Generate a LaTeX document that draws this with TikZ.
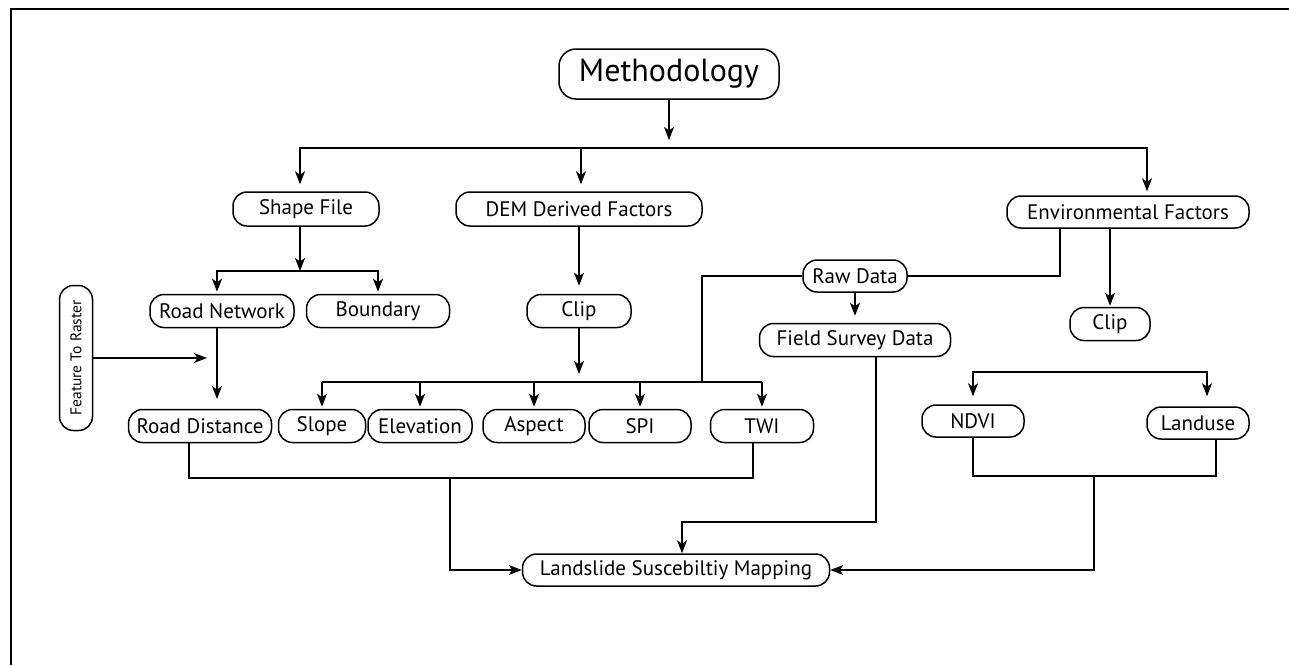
\documentclass[tikz,border=0pt]{standalone}
\usepackage{fontspec}
\setmainfont{PT Sans}
\usepackage{tikz}
\usetikzlibrary{arrows.meta,calc}

\newcommand{\boxfont}{\fontsize{21}{24}\selectfont}
\tikzset{
  box/.style={draw,line width=1.5pt,rounded corners=14pt,minimum height=33pt,inner sep=0pt,font=\boxfont},
  link/.style={line width=1.3pt},
}

\begin{document}
\begin{tikzpicture}[x=1pt,y=-1pt,>={Stealth[length=13pt,width=10pt,inset=3.5pt]}]
  \useasboundingbox (0,0) rectangle (1289,665);
  % cornice
  \draw[line width=2pt] (11,665) -- (11,9) -- (1289,9);
  % nodi
  \node[box,minimum width=220pt,minimum height=50pt,rounded corners=17pt,font=\fontsize{32}{34}\selectfont] (meth) at (669,74) {Methodology};
  \node[box,minimum width=146pt,minimum height=34pt] (shape) at (306,209) {Shape File};
  \node[box,minimum width=246pt,minimum height=34pt] (dem) at (579,209) {DEM Derived Factors};
  \node[box,minimum width=242pt,minimum height=32pt] (env) at (1128,212) {Environmental Factors};
  \node[box,minimum width=144pt] (roadnet) at (222,311) {Road Network};
  \node[box,minimum width=143pt] (bound) at (378,311) {Boundary};
  \node[box,minimum width=104pt] (clipA) at (579,311) {Clip};
  \node[box,minimum width=104pt,minimum height=32pt] (raw) at (855,276) {Raw Data};
  \node[box,minimum width=191pt] (field) at (855,340) {Field Survey Data};
  \node[box,minimum width=80pt] (clipB) at (1110,324) {Clip};
  \node[box,rotate=90,minimum width=145pt,font=\fontsize{15.5}{17}\selectfont] (ftr) at (76,358) {Feature To Raster};
  \node[box,minimum width=143pt] (roaddist) at (200,426) {Road Distance};
  \node[box,minimum width=87pt] (slope) at (322,426) {Slope};
  \node[box,minimum width=104pt] (elev) at (420,426) {Elevation};
  \node[box,minimum width=102pt] (aspect) at (534,426) {Aspect};
  \node[box,minimum width=102pt] (spi) at (640,426) {SPI};
  \node[box,minimum width=103pt] (twi) at (762,426) {TWI};
  \node[box,minimum width=102pt,minimum height=32pt] (ndvi) at (973,421) {NDVI};
  \node[box,minimum width=102pt,minimum height=32pt] (land) at (1198,423) {Landuse};
  \node[box,minimum width=307pt,minimum height=32pt] (lsm) at (676,570) {Landslide Suscebiltiy Mapping};
  % punti di raccordo
  \coordinate (methTip) at (669,140);
  \coordinate (busW) at (300,148);
  \coordinate (busE) at (1147,148);
  \coordinate (busD) at (581,148);
  \coordinate (jS) at (300,271);
  \coordinate (kRN) at (217,271);
  \coordinate (kB) at (378,271);
  \coordinate (rdTip) at (217,399);
  \coordinate (ftrTip) at (207,358);
  \coordinate (jC) at (579,382);
  \coordinate (rawL) at (702,276);
  \coordinate (envR) at (1060,276);
  \coordinate (busN) at (0,372);
  \coordinate (brB) at (450,478);
  \coordinate (brN) at (1094,476);
  \coordinate (fsB) at (682,522);
  % frecce dall'alto
  \draw[->,link] (meth) -- (methTip);
  \draw[<->,link,shorten <=7pt,shorten >=4pt] (busW |- shape.north) -- (busW) -- (busE) -- (busE |- env.north);
  \draw[->,link,shorten >=7pt] (busD) -- (busD |- dem.north);
  % shape file
  \draw[->,link] (shape.south -| jS) -- (jS);
  \draw[<->,link,shorten <=2pt,shorten >=2pt] (kRN |- roadnet.north) -- (kRN) -- (kB) -- (bound.north);
  \draw[->,link] (roadnet.south -| rdTip) -- (rdTip);
  \draw[->,link] (ftr) -- (ftrTip);
  % DEM
  \draw[->,link,shorten >=8pt] (dem) -- (clipA);
  \draw[->,link,shorten >=8pt] (clipA) -- (jC);
  \draw[link] (slope.north |- jC) -- (twi.north |- jC);
  \foreach \n in {slope,elev,aspect,spi,twi}
    \draw[->,link,shorten >=2pt] (\n.north |- jC) -- (\n.north);
  % dati grezzi
  \draw[link] (raw.west) -- (rawL) -- (rawL |- jC);
  \draw[link] (envR |- env.south) -- (envR) -- (raw.east);
  \draw[->,link,shorten >=7pt] (raw) -- (field);
  \draw[->,link,shorten >=1pt] (env.south -| clipB) -- (clipB);
  \draw[<->,link,shorten <=8pt,shorten >=10pt] (ndvi.north) -- (ndvi.north |- busN) -| ([xshift=9pt]land.north);
  % verso la mappatura
  \draw[link] ([xshift=-11pt]roaddist.south) |- (brB) -| ([xshift=-9pt]twi.south);
  \draw[->,link] (brB) |- (lsm.west);
  \draw[link] (ndvi.south) |- (brN) -| ([xshift=18pt]land.south);
  \draw[->,link] (brN) |- (lsm.east);
  \draw[->,link] ([xshift=21pt]field.south) |- (fsB) -- (fsB |- lsm.north);
\end{tikzpicture}
\end{document}
